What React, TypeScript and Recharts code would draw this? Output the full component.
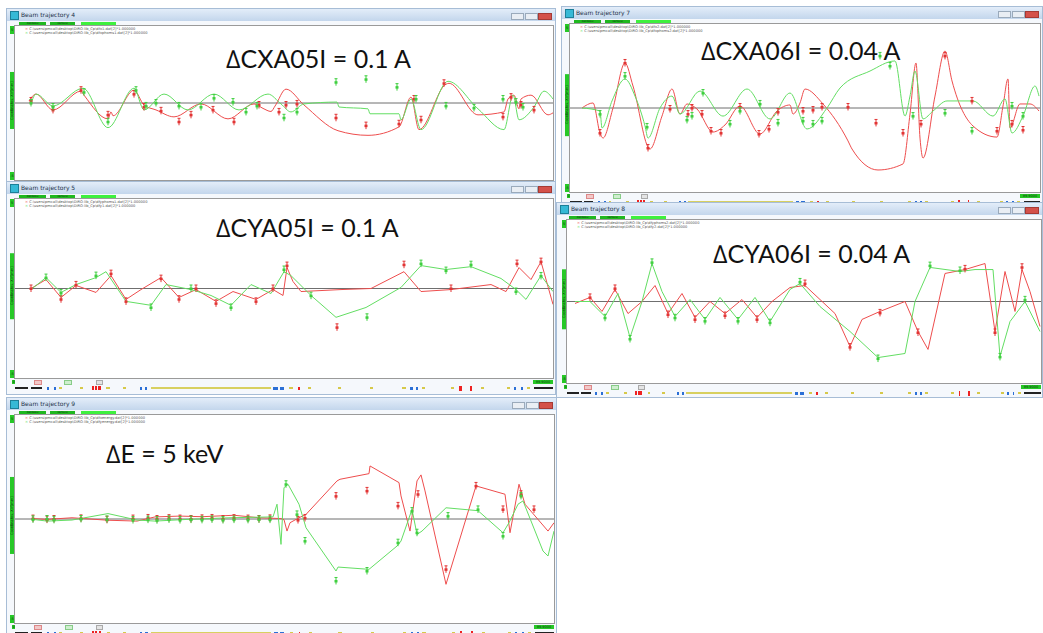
import React from "react";
import { ComposedChart, Line, Scatter, XAxis, YAxis, ReferenceLine } from "recharts";

type Pt = [number, number];
type Curve = "monotone" | "linear";

// ---- Beam trajectory 4 : ΔCXA05I = 0.1 A ----
const cxa05Red: Pt[] = [[14,0.13],[21,0.58],[38,-0.45],[66,0.77],[69,0.51],[93,-1.03],[96,-0.58],[98,-0.83],[119,0.83],[129,-0.13],[141,-0.45],[159,-0.9],[186,-0.06],[213,-1.03],[239,-0.06],[248,-0.35],[256,-0.55],[260,-0.2],[271,0.9],[289,-0.13],[323,-1.8],[353,-2.1],[384,-1.55],[396,0.38],[404,-1.73],[431,1.22],[434,1.28],[463,-0.77],[489,-0.58],[493,0.26],[499,0.51],[504,-0.38],[506,0.26],[516,0.51],[533,-0.77],[538,-0.64]];
const cxa05Green: Pt[] = [[16,-0.06],[21,0.58],[38,-0.19],[68,0.96],[93,-1.6],[119,0.96],[129,-0.45],[149,0.58],[173,-0.45],[199,0.58],[224,-0.45],[253,0.58],[266,-0.06],[276,-0.58],[289,-0.06],[322,0.06],[324,-0.26],[353,-0.38],[355,-0.7],[384,-0.7],[386,-1.09],[396,0.26],[406,-1.73],[433,1.41],[463,-0.38],[489,-1.73],[498,0.51],[504,-1.09],[519,-0.26],[529,0.77],[538,0.26]];
const cxa05RedMeas: Pt[] = [[16,0.13],[38,-0.45],[66,0.83],[93,-0.77],[119,0.58],[129,-0.26],[146,-0.51],[164,-1.22],[176,-0.77],[198,-0.45],[219,-1.22],[244,-0.13],[264,-0.58],[271,-0.13],[282,-0.06],[321,-0.96],[351,-1.47],[384,-1.35],[399,0.26],[406,-1.09],[429,1.28],[488,-0.9],[496,0.38],[506,-0.13],[519,-0.45]];
const cxa05GreenMeas: Pt[] = [[16,0],[38,-0.26],[69,0.7],[93,-1.22],[121,0.83],[131,-0.19],[141,0],[164,-0.19],[186,-0.26],[199,0.32],[218,0.06],[231,-0.58],[242,-0.19],[269,-0.96],[282,-0.58],[321,1.35],[351,1.54],[382,1.03],[401,0.26],[431,-0.19],[459,-0.32],[488,0.26],[501,0.06],[508,-0.26]];

// ---- Beam trajectory 7 : ΔCXA06I = 0.04 A ----
const cxa06Red: Pt[] = [[12,0],[23,0.3],[30,-1.49],[33,-1.79],[43,0],[55,2.68],[63,1.31],[80,-2.44],[92,-0.48],[102,1.13],[110,-0.36],[117,0.24],[127,-0.06],[143,-1.43],[155,-1.01],[170,0.12],[190,-1.55],[207,-0.18],[220,0.18],[223,-0.36],[230,0.3],[235,1.13],[253,0.24],[278,-1.96],[282,-2.44],[308,-3.69],[333,-3.33],[340,-0.36],[346,2.68],[350,-1.79],[353,-2.98],[365,0.71],[375,3.39],[382,1.61],[403,-1.07],[427,-1.73],[433,0.12],[438,1.73],[440,-1.19],[450,0.24],[460,0.24],[469,-0.18]];
const cxa06Green: Pt[] = [[12,0],[30,-0.18],[32,-1.19],[42,0.42],[55,1.73],[65,0.71],[75,-1.07],[78,-1.79],[90,0],[102,0.71],[110,-0.36],[130,1.01],[153,-0.48],[177,1.13],[200,-0.65],[220,0.89],[237,-1.25],[257,0],[270,1.19],[300,2.2],[325,2.8],[335,-0.48],[340,0.71],[345,2.2],[353,-0.65],[363,-0.18],[377,0.42],[403,0.42],[423,-0.48],[435,0.54],[442,-1.49],[453,-0.48],[465,1.31],[469,0.71]];
const cxa06RedMeas: Pt[] = [[30,-1.49],[55,2.68],[78,-2.38],[100,-0.06],[118,-0.36],[122,0],[132,-0.36],[141,-1.37],[151,-1.49],[170,0.06],[189,-1.55],[199,-1.25],[208,-0.24],[233,-0.18],[243,-0.12],[252,0.06],[278,0.06],[306,-0.89],[333,-1.49],[351,-0.95],[375,3.1],[402,0.42],[427,-1.37],[442,-0.95],[453,-1.31]];
const cxa06GreenMeas: Pt[] = [[30,-0.36],[55,1.9],[77,-1.13],[117,-0.71],[122,-0.48],[133,0.89],[160,-0.95],[170,-0.18],[190,0.24],[208,-0.89],[233,-0.77],[243,-0.95],[252,-0.77],[310,3.1],[320,2.5],[343,-0.48],[375,-0.3],[402,-1.37],[442,0.12],[453,-0.48]];

// ---- Beam trajectory 5 : ΔCYA05I = 0.1 A ----
const cya05Red: Pt[] = [[16,0],[31,0.5],[46,-0.5],[61,0.17],[81,-0.22],[96,0.72],[111,-0.61],[126,-0.06],[146,0.61],[164,-0.5],[181,-0.06],[201,-0.72],[218,-0.17],[241,-0.61],[258,-0.06],[268,-0.39],[272,1.17],[278,0.39],[286,-0.17],[326,-0.06],[356,0],[389,0.94],[406,-0.17],[436,-0.06],[476,0.22],[491,-0.17],[504,1.17],[516,0.5],[526,1.5],[538,-0.89]];
const cya05Green: Pt[] = [[16,-0.06],[31,0.61],[46,-0.22],[61,0.22],[81,0.61],[91,0.94],[111,-0.72],[136,-0.94],[151,0.22],[176,-0.06],[196,-0.39],[216,-0.94],[236,0.22],[256,-0.28],[269,0.94],[276,0.72],[296,-0.39],[321,-1.61],[351,-1.06],[386,0.06],[406,1.28],[431,1.06],[456,1.22],[486,0.56],[501,-0.06],[511,-0.61],[526,0.72],[538,-0.17]];
const cya05RedMeas: Pt[] = [[16,0],[46,-0.6],[61,0.2],[96,0.83],[111,-0.72],[146,0.55],[164,-0.6],[181,0],[201,-0.83],[241,-0.72],[258,0],[272,1.28],[322,-2.17],[389,1.33],[436,0],[502,1.39],[526,1.5]];
const cya05GreenMeas: Pt[] = [[31,0.61],[46,-0.25],[81,0.72],[136,-1.06],[176,0],[216,-1.06],[269,1.06],[296,-0.4],[352,-1.61],[406,1.39],[431,1.0],[456,1.33],[501,-0.17],[526,0.7]];

// ---- Beam trajectory 8 : ΔCYA06I = 0.04 A ----
const cya06Red: Pt[] = [[8,-0.12],[23,0.25],[35,-0.61],[48,0.74],[61,-0.74],[75,0],[88,0.98],[101,-0.74],[115,0.49],[128,-0.98],[143,0],[158,-0.74],[175,0.12],[190,-0.98],[205,0],[223,0.86],[238,0.98],[253,0.12],[268,-0.74],[283,-2.76],[295,-1.1],[313,-0.61],[338,0],[351,-1.84],[361,-2.94],[378,1.72],[398,1.96],[418,2.33],[428,-1.84],[438,1.84],[448,-0.61],[455,1.96],[463,0.61],[473,-1.53]];
const cya06Green: Pt[] = [[8,0],[23,0],[38,-0.92],[51,0.49],[63,-2.21],[75,0],[85,2.33],[95,0.61],[108,-0.92],[123,0.12],[138,-1.1],[153,0.25],[171,-1.1],[188,0.25],[203,-1.23],[223,0.74],[233,1.1],[253,-0.31],[283,-1.84],[311,-3.44],[338,-3.19],[348,0],[363,2.09],[393,1.84],[408,1.96],[426,1.96],[433,-3.37],[443,-1.23],[458,0],[473,-1.84]];
const cya06RedMeas: Pt[] = [[23,0.25],[48,0.8],[101,-0.8],[128,-1.1],[158,-0.86],[190,-1.1],[238,1.1],[283,-2.8],[313,-0.7],[351,-1.9],[398,2.0],[428,-1.9],[455,2.1]];
const cya06GreenMeas: Pt[] = [[38,-1.0],[63,-2.3],[85,2.4],[108,-1.0],[138,-1.2],[171,-1.2],[203,-1.3],[233,1.2],[311,-3.5],[363,2.2],[393,1.9],[433,-3.4],[458,0.1]];

// ---- Beam trajectory 9 : ΔE = 5 keV ----
const energyRed: Pt[] = [[18,0.02],[32,-0.02],[57,0.06],[93,-0.06],[122,-0.1],[140,0.1],[165,0.14],[187,0.11],[219,0.18],[244,0.06],[266,0.02],[269,-0.03],[272,-0.58],[275,-0.18],[284,0.06],[291,0.22],[322,1.83],[325,1.91],[354,2.18],[355,2.55],[384,1.75],[386,1.11],[395,-0.58],[402,1.83],[406,2.12],[410,1.35],[431,-3.14],[461,1.59],[490,1.19],[495,-0.66],[504,1.67],[510,0.71],[533,-0.58],[539,-0.18]];
const energyGreen: Pt[] = [[18,-0.02],[32,-0.1],[57,-0.05],[93,0.26],[122,-0.05],[140,-0.1],[172,-0.02],[215,0.06],[258,0.1],[262,0.71],[266,-1.22],[269,1.51],[273,1.67],[284,0.71],[291,-0.42],[321,-2.5],[323,-2.31],[354,-2.42],[382,-1.3],[386,-1.06],[397,0.46],[402,-0.74],[407,-0.58],[431,0.54],[463,0.4],[488,-0.66],[494,-0.18],[503,0.71],[508,0.87],[528,-1.54],[533,-1.78],[539,-0.58]];
const energyRedMeas: Pt[] = [[18,0.02],[32,-0.03],[39,0],[66,0.03],[92,-0.04],[118,0.02],[133,0.05],[142,0],[154,0.04],[165,0.02],[176,0],[187,0.03],[197,0.05],[208,0],[219,0.04],[233,0.02],[244,0],[255,0.03],[283,-0.05],[290,0.05],[321,1.1],[352,1.35],[383,0.63],[403,1.19],[431,-2.42],[461,1.59],[488,0.46],[506,1.19],[519,0.46]];
const energyGreenMeas: Pt[] = [[18,-0.02],[32,0],[39,-0.04],[66,0],[92,-0.02],[118,-0.05],[133,-0.03],[142,-0.06],[154,-0.02],[165,-0.05],[176,-0.03],[187,-0.04],[197,-0.02],[208,-0.05],[219,-0.03],[233,-0.04],[244,-0.02],[255,-0.03],[271,1.67],[282,0.22],[290,-1.06],[321,-2.98],[352,-2.5],[383,-1.14],[397,0.38],[402,-0.66],[433,0.14],[463,0.46],[488,-0.82],[506,1.11]];

// y axis tick values (mm)
const yTicks = [-4, -3, -2, -1, 0, 1, 2, 3, 4];

// beamline lattice strip: [start, end, colour, height] as fraction of the ring length
const lattice: [number, number, string, number][] = [
  [0.0, 0.025, "#222", 2], [0.03, 0.05, "#222", 2], [0.06, 0.064, "#2b6fd6", 3], [0.072, 0.076, "#2b6fd6", 3], [0.082, 0.088, "#d6c94a", 2],
  [0.12, 0.126, "#d6c94a", 2], [0.143, 0.147, "#e22", 4], [0.149, 0.153, "#e22", 4], [0.155, 0.159, "#e22", 4], [0.17, 0.176, "#d6c94a", 2],
  [0.2, 0.206, "#d6c94a", 2], [0.232, 0.236, "#2b6fd6", 3], [0.242, 0.246, "#2b6fd6", 3], [0.252, 0.475, "#d8d060", 2],
  [0.48, 0.488, "#2b6fd6", 3], [0.492, 0.5, "#2b6fd6", 3], [0.51, 0.516, "#d6c94a", 2], [0.526, 0.529, "#e22", 3], [0.545, 0.551, "#d6c94a", 2],
  [0.6, 0.606, "#d6c94a", 2], [0.66, 0.666, "#d6c94a", 2], [0.72, 0.726, "#d6c94a", 2], [0.735, 0.739, "#2b6fd6", 3], [0.745, 0.749, "#2b6fd6", 3],
  [0.756, 0.762, "#d6c94a", 2], [0.81, 0.816, "#d6c94a", 2], [0.826, 0.83, "#e22", 5], [0.846, 0.85, "#e22", 5], [0.866, 0.872, "#d6c94a", 2],
  [0.915, 0.921, "#d6c94a", 2], [0.928, 0.932, "#2b6fd6", 3], [0.94, 0.944, "#2b6fd6", 3], [0.952, 0.958, "#d6c94a", 2], [0.965, 1.0, "#222", 2],
];

interface PanelCfg {
  title: string;
  left: number; top: number; width: number; height: number;
  plotX: number; plotY: number; plotW: number; plotH: number;
  red: Pt[]; green: Pt[]; redMeas: Pt[]; greenMeas: Pt[];
  curve: Curve;
  files: [string, string];
  label: string; labelX: number; labelY: number;
}

const RED = "#ee4d4d";
const GREEN = "#63de63";
const UI_FONT = "'DejaVu Sans', sans-serif";

const toRows = (a: Pt[]) => a.map(([s, v]) => ({ s, v }));

function makeMark(color: string) {
  return (p: any) => {
    const { cx, cy } = p;
    if (cx == null || cy == null) return <g />;
    return (
      <g>
        <line x1={cx} x2={cx} y1={cy - 3.5} y2={cy + 3.5} stroke={color} strokeWidth={1} />
        <line x1={cx - 1.5} x2={cx + 1.5} y1={cy - 3.5} y2={cy - 3.5} stroke={color} strokeWidth={1} />
        <rect x={cx - 1.5} y={cy - 1} width={3} height={2.5} fill={color} />
      </g>
    );
  };
}
const redMark = makeMark("#e23434");
const greenMark = makeMark("#3fcf3f");

function GreenTag({ left, top, w, h, text, vertical }: { left: number; top: number; w: number; h: number; text: string; vertical?: boolean }) {
  return (
    <div style={{ position: "absolute", left, top, width: w, height: h, background: "#27c827", color: "#0a3a0a", fontSize: 3.5, fontFamily: UI_FONT, lineHeight: vertical ? "5px" : `${h}px`, textAlign: "center", overflow: "hidden", writingMode: vertical ? "vertical-rl" : undefined, transform: vertical ? "rotate(180deg)" : undefined, whiteSpace: "nowrap" }}>
      {text}
    </div>
  );
}

function Panel({ c }: { c: PanelCfg }) {
  const xTicks = Array.from({ length: 9 }, (_, i) => Math.round(((i + 1) * c.plotW) / 10));
  const plotBottom = c.plotY + c.plotH;
  return (
    <div style={{ position: "absolute", left: c.left, top: c.top, width: c.width, height: c.height, boxSizing: "border-box", border: "1px solid #a7bdd6", background: "#f5f8fc", overflow: "hidden" }}>
      {/* title bar */}
      <div style={{ position: "absolute", left: 0, top: 0, right: 0, height: 12, background: "linear-gradient(#e3edf9, #c3d6ec)" }}>
        <div style={{ position: "absolute", left: 3, top: 2, width: 7, height: 7, background: "#36b9d6", border: "1px solid #1d7f98" }} />
        <div style={{ position: "absolute", left: 14, top: 2, fontSize: 6, lineHeight: "8px", fontFamily: UI_FONT, color: "#22324a" }}>{c.title}</div>
        <div style={{ position: "absolute", right: 31, top: 4, width: 11, height: 5, background: "#e9eef4", border: "1px solid #9aaabb" }} />
        <div style={{ position: "absolute", right: 17, top: 4, width: 11, height: 5, background: "#e9eef4", border: "1px solid #9aaabb" }} />
        <div style={{ position: "absolute", right: 3, top: 4, width: 12, height: 5, background: "#d4514a", border: "1px solid #a53a34" }} />
      </div>
      {/* toolbar */}
      <div style={{ position: "absolute", left: 12, top: 12.5, width: 27, height: 3, background: "#1fb81f", fontSize: 2.5, lineHeight: "3px", color: "#083a08", fontFamily: UI_FONT, textAlign: "center" }}>REFRESH</div>
      <div style={{ position: "absolute", left: 43, top: 12.5, width: 25, height: 3, background: "#1fb81f", fontSize: 2.5, lineHeight: "3px", color: "#083a08", fontFamily: UI_FONT, textAlign: "center" }}>DETACH</div>
      <div style={{ position: "absolute", left: 74, top: 12.5, width: 35, height: 3, background: "#3ef03e" }} />
      {/* y axis tags */}
      <GreenTag left={c.plotX - 5} top={c.plotY} w={4} h={8} text="5" />
      <GreenTag left={c.plotX - 5} top={c.plotY + c.plotH * 0.3} w={4} h={c.plotH * 0.37} text="Coordinates, X/Y[mm]" vertical />
      <GreenTag left={c.plotX - 5} top={plotBottom - 8} w={4} h={8} text="-5" />
      {/* plot */}
      <div style={{ position: "absolute", left: c.plotX - 1, top: c.plotY - 1, width: c.plotW, height: c.plotH, border: "1px solid #9a9a9a", background: "#fff" }}>
        <ComposedChart width={c.plotW} height={c.plotH} margin={{ top: 0, right: 0, bottom: 0, left: 0 }}>
          <XAxis type="number" dataKey="s" domain={[0, c.plotW]} ticks={xTicks} orientation="bottom" mirror axisLine={false} tickLine={{ stroke: "#8a8a8a" }} tickSize={4} tick={false} allowDataOverflow />
          <XAxis xAxisId="top" type="number" dataKey="s" domain={[0, c.plotW]} ticks={xTicks} orientation="top" mirror axisLine={false} tickLine={{ stroke: "#8a8a8a" }} tickSize={4} tick={false} allowDataOverflow />
          <YAxis type="number" domain={[-5, 5]} ticks={yTicks} orientation="left" mirror axisLine={false} tickLine={{ stroke: "#8a8a8a" }} tickSize={4} tick={false} allowDataOverflow />
          <YAxis yAxisId="right" type="number" domain={[-5, 5]} ticks={yTicks} orientation="right" mirror axisLine={false} tickLine={{ stroke: "#8a8a8a" }} tickSize={4} tick={false} allowDataOverflow />
          <ReferenceLine y={0} stroke="#6f6f6f" strokeWidth={1} />
          <Line data={toRows(c.red)} dataKey="v" type={c.curve} stroke={RED} strokeWidth={1} dot={false} isAnimationActive={false} />
          <Line data={toRows(c.green)} dataKey="v" type={c.curve} stroke={GREEN} strokeWidth={1} dot={false} isAnimationActive={false} />
          <Scatter data={toRows(c.redMeas)} dataKey="v" shape={redMark} isAnimationActive={false} />
          <Scatter data={toRows(c.greenMeas)} dataKey="v" shape={greenMark} isAnimationActive={false} />
        </ComposedChart>
        {/* file legend */}
        <div style={{ position: "absolute", left: 10, top: 1, fontSize: 3.6, lineHeight: "4px", fontFamily: UI_FONT, color: "#555", whiteSpace: "nowrap" }}>
          <div><span style={{ color: RED }}>× </span>{c.files[0]}</div>
          <div><span style={{ color: GREEN }}>× </span>{c.files[1]}</div>
        </div>
      </div>
      {/* element markers under the plot */}
      <GreenTag left={c.plotX - 3} top={plotBottom + 1.5} w={3} h={4} text="0" />
      <div style={{ position: "absolute", left: c.plotX + c.plotW * 0.035, top: plotBottom + 2, width: 6, height: 3, background: "#f2c8c8", border: "1px solid #d88" }} />
      <div style={{ position: "absolute", left: c.plotX + c.plotW * 0.092, top: plotBottom + 2, width: 6, height: 3, background: "#cfeecf", border: "1px solid #8c8" }} />
      <div style={{ position: "absolute", left: c.plotX + c.plotW * 0.15, top: plotBottom + 2, width: 5, height: 3, background: "#e4e4e4", border: "1px solid #aaa" }} />
      <GreenTag left={c.plotX + c.plotW - 20} top={plotBottom + 1.5} w={20} h={4} text="99.9000" />
      {lattice.map(([a, b, col, h], i) => (
        <div key={i} style={{ position: "absolute", left: c.plotX + a * c.plotW, top: plotBottom + 10 - h / 2, width: Math.max(1.5, (b - a) * c.plotW), height: h, background: col }} />
      ))}
      {/* setting change annotation */}
      <div style={{ position: "absolute", left: c.labelX, top: c.labelY, fontFamily: "Lato, 'Open Sans', sans-serif", fontSize: 25, lineHeight: "25px", color: "#111", whiteSpace: "nowrap" }}>{c.label}</div>
    </div>
  );
}

const panels: PanelCfg[] = [
  { title: "Beam trajectory 4", left: 6, top: 8, width: 550, height: 181, plotX: 8, plotY: 17, plotW: 538, plotH: 154,
    red: cxa05Red, green: cxa05Green, redMeas: cxa05RedMeas, greenMeas: cxa05GreenMeas, curve: "monotone",
    files: ["C:\\users\\pmcall\\desktop\\DIRO-lib_Cp\\dfx1.dat[2]*1.000000", "C:\\users\\pmcall\\desktop\\DIRO-lib_Cp\\dfxphoms1.dat[2]*1.000000"],
    label: "\u2206CXA05I = 0.1 A", labelX: 219, labelY: 37 },
  { title: "Beam trajectory 5", left: 6, top: 181, width: 550, height: 214, plotX: 8, plotY: 17, plotW: 538, plotH: 179,
    red: cya05Red, green: cya05Green, redMeas: cya05RedMeas, greenMeas: cya05GreenMeas, curve: "linear",
    files: ["C:\\users\\pmcall\\desktop\\DIRO-lib_Cp\\dfyphoms1.dat[2]*1.000000", "C:\\users\\pmcall\\desktop\\DIRO-lib_Cp\\dfy1.dat[2]*1.000000"],
    label: "\u2206CYA05I = 0.1 A", labelX: 209, labelY: 33 },
  { title: "Beam trajectory 9", left: 6, top: 397, width: 551, height: 240, plotX: 8, plotY: 17, plotW: 539, plotH: 208,
    red: energyRed, green: energyGreen, redMeas: energyRedMeas, greenMeas: energyGreenMeas, curve: "linear",
    files: ["C:\\users\\pmcall\\desktop\\DIRO-lib_Cp\\dfxenergy.dat[2]*1.000000", "C:\\users\\pmcall\\desktop\\DIRO-lib_Cp\\dfyenergy.dat[2]*1.000000"],
    label: "\u2206E = 5 keV", labelX: 99, labelY: 43 },
  { title: "Beam trajectory 7", left: 561, top: 6, width: 482, height: 200, plotX: 8, plotY: 17, plotW: 470, plotH: 168,
    red: cxa06Red, green: cxa06Green, redMeas: cxa06RedMeas, greenMeas: cxa06GreenMeas, curve: "monotone",
    files: ["C:\\users\\pmcall\\desktop\\DIRO-lib_Cp\\dfx2.dat[2]*1.000000", "C:\\users\\pmcall\\desktop\\DIRO-lib_Cp\\dfxphoms2.dat[2]*1.000000"],
    label: "\u2206CXA06I = 0.04 A", labelX: 139, labelY: 31 },
  { title: "Beam trajectory 8", left: 556, top: 202, width: 487, height: 196, plotX: 10, plotY: 17, plotW: 474, plotH: 163,
    red: cya06Red, green: cya06Green, redMeas: cya06RedMeas, greenMeas: cya06GreenMeas, curve: "linear",
    files: ["C:\\users\\pmcall\\desktop\\DIRO-lib_Cp\\dfyphoms2.dat[2]*1.000000", "C:\\users\\pmcall\\desktop\\DIRO-lib_Cp\\dfy2.dat[2]*1.000000"],
    label: "\u2206CYA06I = 0.04 A", labelX: 156, labelY: 38 },
];

export default function App() {
  return (
    <div style={{ position: "absolute", left: 0, top: 0, width: 1043, height: 633, background: "#fff", overflow: "hidden" }}>
      {panels.map((p) => (
        <Panel key={p.title} c={p} />
      ))}
    </div>
  );
}
